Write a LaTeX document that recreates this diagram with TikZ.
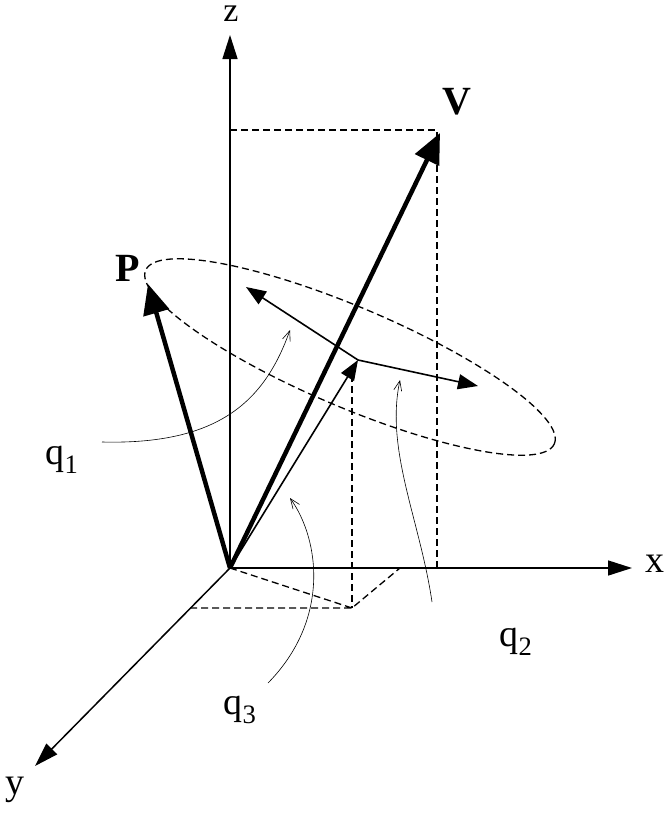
\documentclass[tikz,border=0pt]{standalone}
\usepackage{fontspec}
\setmainfont{Liberation Serif}
\usetikzlibrary{arrows.meta}
\begin{document}
\begin{tikzpicture}[x=1pt,y=-1pt,
 axis/.style={line width=1.5pt,-{Triangle[length=24pt,width=15pt]}},
 bigvec/.style={line width=4.5pt,-{Triangle[length=30pt,width=26pt]}},
 midvec/.style={line width=1.6pt,-{Triangle[length=20pt,width=15pt]}},
 dsh/.style={line width=1.3pt,dash pattern=on 7pt off 4pt},
 thin/.style={line width=0.6pt,-{Straight Barb[length=10pt,width=8pt]}},
 lbl/.style={font=\fontsize{38}{38}\selectfont}]
\useasboundingbox (0,0) rectangle (671,817);
\coordinate (O) at (230,568);
\coordinate (Z) at (230,35);
\coordinate (X) at (632,568);
\coordinate (Y) at (35,766);
\coordinate (V) at (440,133);
\coordinate (P) at (148,284);
\coordinate (Q) at (358,360);
\coordinate (A1) at (246,287);
\coordinate (A2) at (478,386);
\coordinate (F) at (352,608);
\coordinate (Fy) at (190,608);
\coordinate (Fx) at (400,568);
\coordinate (T) at (230,130);
\coordinate (Tv) at (437,130);
\coordinate (Bv) at (437,568);
\draw[dsh] (350,357) ellipse[x radius=222, y radius=50, rotate=-23];
\draw[dsh] (T) -- (Tv) -- (Bv);
\draw[dsh] (352,375) -- (F);
\draw[dsh] (O) -- (F) (Fy) -- (F) -- (Fx);
\draw[axis] (O) -- (Z);
\draw[axis] (O) -- (X);
\draw[axis] (O) -- (Y);
\draw[bigvec] (O) -- (V);
\draw[bigvec] (O) -- (P);
\draw[midvec] (O) -- (Q);
\draw[midvec] (Q) -- (A1);
\draw[midvec] (Q) -- (A2);
\node[lbl,font=\fontsize{34}{34}\selectfont,inner sep=0pt] (zl) at (231,14) {z};
\node[lbl] (xl) at (655,564) {x};
\node[lbl] (yl) at (15,790) {y};
\node[lbl,font=\fontsize{40}{40}\selectfont\bfseries] (vl) at (457,102) {V};
\node[lbl,font=\fontsize{40}{40}\selectfont\bfseries] (pl) at (128,268) {P};
\node[lbl] (q1) at (62,460) {q\textsubscript{1}};
\node[lbl] (q2) at (516,642) {q\textsubscript{2}};
\node[lbl] (q3) at (240,710) {q\textsubscript{3}};
\draw[thin] (102,442) .. controls (220,445) and (265,400) .. (290,330);
\draw[thin] (432,602) .. controls (420,520) and (385,450) .. (400,380);
\draw[thin] (268,683) .. controls (330,620) and (320,540) .. (290,498);
\end{tikzpicture}
\end{document}
